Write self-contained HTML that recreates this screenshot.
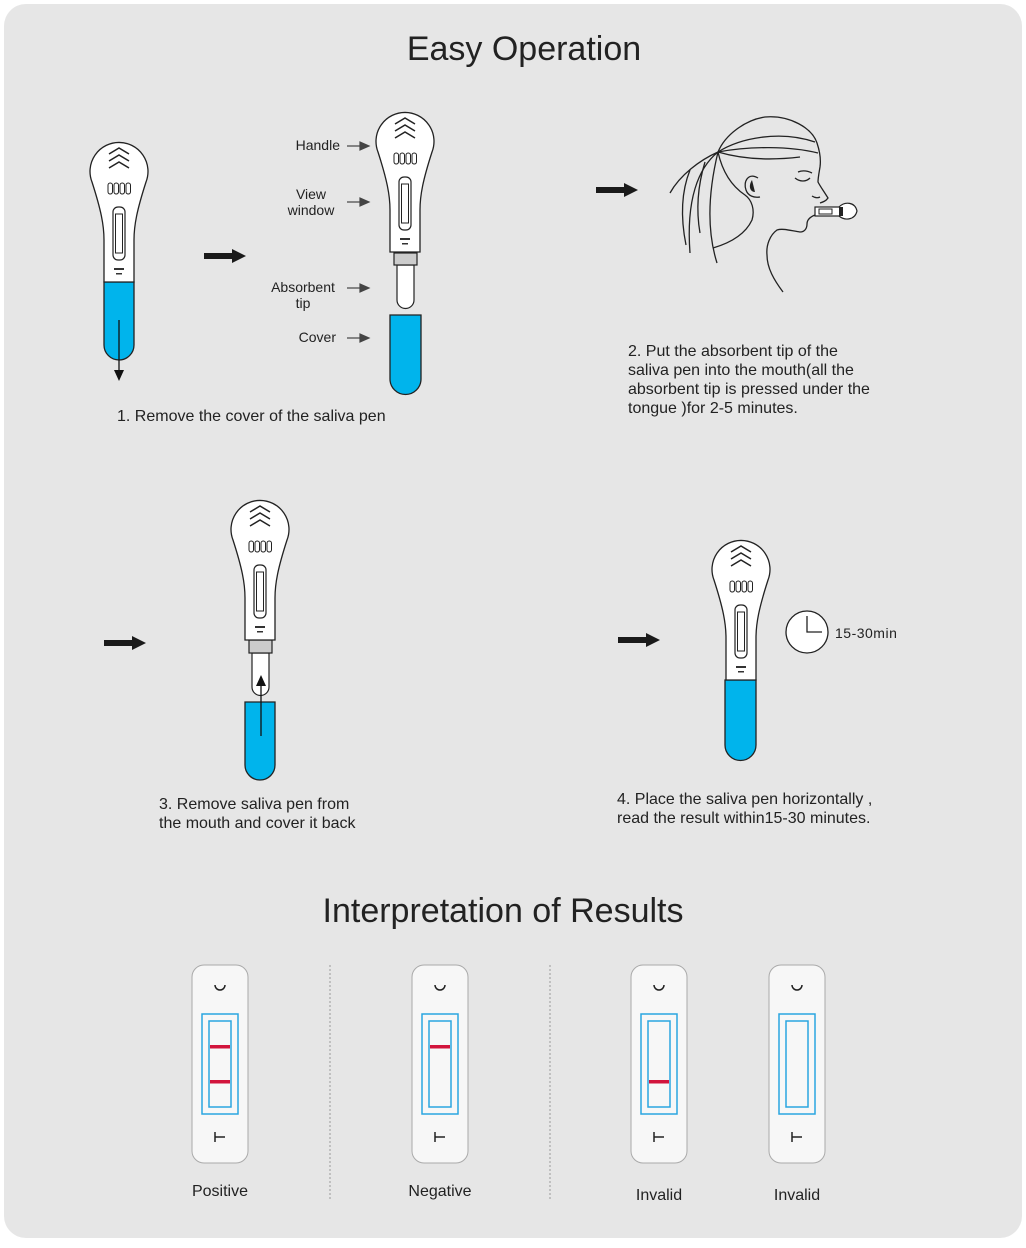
<!DOCTYPE html>
<html><head><meta charset="utf-8"><style>
html,body{margin:0;padding:0;background:#fff;}
svg{display:block;}
text{font-family:"Liberation Sans",sans-serif;fill:#222;}
</style></head><body>
<svg width="1026" height="1248" viewBox="0 0 1026 1248" xmlns="http://www.w3.org/2000/svg">
<defs>
<g id="pen">
<path d="M-27,12 A29,29 0 1 1 27,12 C18,40 15,55 15,70 L15,112 L-15,112 L-15,70 C-15,55 -18,40 -27,12 Z" fill="#fff" stroke="#222" stroke-width="1.3"/>
<path d="M-10,-16 L0,-22 L10,-16 M-10,-9 L0,-15 L10,-9 M-10,-2 L0,-8 L10,-2" fill="none" stroke="#222" stroke-width="1.5"/>
<rect x="-11" y="13" width="4.5" height="11" rx="2.2" fill="none" stroke="#222" stroke-width="1"/>
<rect x="-5" y="13" width="4.5" height="11" rx="2.2" fill="none" stroke="#222" stroke-width="1"/>
<rect x="1" y="13" width="4.5" height="11" rx="2.2" fill="none" stroke="#222" stroke-width="1"/>
<rect x="7" y="13" width="4.5" height="11" rx="2.2" fill="none" stroke="#222" stroke-width="1"/>
<rect x="-6" y="37" width="12" height="53" rx="5" fill="none" stroke="#222" stroke-width="1.2"/>
<rect x="-3.5" y="44" width="7" height="39" fill="none" stroke="#222" stroke-width="1"/>
<rect x="-5" y="98" width="10" height="2" fill="#333"/>
<rect x="-3" y="103" width="6" height="1.5" fill="#333"/>
</g>
</defs>
<rect x="4" y="4" width="1018" height="1234" rx="22" fill="#e6e6e6"/>
<text x="524" y="60" font-size="34" text-anchor="middle" fill="#444">Easy Operation</text>
<text x="503" y="922" font-size="34" text-anchor="middle" fill="#444">Interpretation of Results</text>

<!-- Step 1 pen 1 -->
<path d="M104,282 L134,282 L134,345 A15,15 0 0 1 104,345 Z" fill="#00b4ec" stroke="#222" stroke-width="1.3"/>
<use href="#pen" x="119" y="170"/>
<line x1="119" y1="320" x2="119" y2="372" stroke="#111" stroke-width="1.3"/>
<path d="M114,370 L124,370 L119,381 Z" fill="#111"/>
<path d="M204,253 L232,253 L232,249 L246,256 L232,263 L232,259 L204,259 Z" fill="#1a1a1a"/>

<!-- pen 2 -->
<path d="M397,265 L414,265 L414,300 A8.5,8.5 0 0 1 397,300 Z" fill="#fff" stroke="#222" stroke-width="1.2"/>
<rect x="394" y="253" width="23" height="12" fill="#ccc" stroke="#222" stroke-width="1.2"/>
<use href="#pen" x="405" y="140"/>
<path d="M390,315 L421,315 L421,379 A15.5,15.5 0 0 1 390,379 Z" fill="#00b4ec" stroke="#222" stroke-width="1.3"/>
<g font-size="14">
<text x="340" y="150" text-anchor="end">Handle</text>
<text x="311" y="199" text-anchor="middle">View</text>
<text x="311" y="215" text-anchor="middle">window</text>
<text x="303" y="292" text-anchor="middle">Absorbent</text>
<text x="303" y="308" text-anchor="middle">tip</text>
<text x="336" y="342" text-anchor="end">Cover</text>
</g>
<g stroke="#444" stroke-width="1.2" fill="#444">
<line x1="347" y1="146" x2="362" y2="146"/><path d="M360,142 L369,146 L360,150 Z"/>
<line x1="347" y1="202" x2="362" y2="202"/><path d="M360,198 L369,202 L360,206 Z"/>
<line x1="347" y1="288" x2="362" y2="288"/><path d="M360,284 L369,288 L360,292 Z"/>
<line x1="347" y1="338" x2="362" y2="338"/><path d="M360,334 L369,338 L360,342 Z"/>
</g>
<text x="117" y="421" font-size="16">1. Remove the cover of the saliva pen</text>

<!-- Step 2 -->
<path d="M596,187 L624,187 L624,183 L638,190 L624,197 L624,193 L596,193 Z" fill="#1a1a1a"/>
<g fill="none" stroke="#222" stroke-width="1.3">
<!-- head outline & profile -->
<path d="M718,152 C725,135 745,120 765,117 C790,115 812,128 817,143 C820,152 821,160 820,167 C819,173 818,178 818,182 C820,186 823,190 828,198 C826,201 823,202 820,203"/>
<path d="M815,215 C810,217 807,220 807,224 C807,228 805,232 800,232 C792,231 783,228 777,230 C770,235 766,245 767,255 C767,268 774,280 783,292"/>
<!-- hair lines -->
<path d="M718,152 C740,138 780,130 815,142"/>
<path d="M718,152 C750,146 790,146 818,153"/>
<path d="M718,152 C745,160 775,160 800,157"/>
<path d="M718,152 C722,170 730,185 745,195 C752,200 755,210 752,220 C745,235 730,243 713,248"/>
<path d="M718,152 C700,160 680,175 670,193"/>
<path d="M718,152 C698,168 686,200 690,253"/>
<path d="M718,152 C710,185 705,225 717,263"/>
<path d="M690,170 C682,190 680,215 686,245"/>
<path d="M705,162 C698,185 696,210 700,233"/>
<!-- ear -->
<path d="M758,178 C748,172 743,182 746,190 C748,196 754,198 760,197"/>
<!-- eye -->
<path d="M795,178 C800,182 806,182 810,178"/>
<path d="M798,172 C803,170 808,171 812,173"/>
<path d="M812,196 C815,198 818,198 820,197"/>
</g>
<path d="M752,180 C748,186 750,192 755,192 Z" fill="#222"/>
<g transform="translate(815,204)">
<rect x="0" y="3" width="26" height="9" fill="#fff" stroke="#222" stroke-width="1.2"/>
<rect x="4" y="5" width="13" height="5" fill="none" stroke="#222"/>
<path d="M24,3 C30,-3 40,-2 42,7 C40,16 30,17 24,12" fill="#fff" stroke="#222" stroke-width="1.2"/>
<rect x="24" y="3" width="4" height="9" fill="#222"/>
</g>
<g font-size="16">
<text x="628" y="356">2. Put the absorbent tip of the</text>
<text x="628" y="375">saliva pen into the mouth(all the</text>
<text x="628" y="394">absorbent tip is pressed under the</text>
<text x="628" y="413">tongue )for 2-5 minutes.</text>
</g>

<!-- Step 3 -->
<path d="M104,640 L132,640 L132,636 L146,643 L132,650 L132,646 L104,646 Z" fill="#1a1a1a"/>
<path d="M252,653 L269,653 L269,687 A8.5,8.5 0 0 1 252,687 Z" fill="#fff" stroke="#222" stroke-width="1.2"/>
<rect x="249" y="640" width="23" height="13" fill="#ccc" stroke="#222" stroke-width="1.2"/>
<use href="#pen" x="260" y="528"/>
<path d="M245,702 L275,702 L275,765 A15,15 0 0 1 245,765 Z" fill="#00b4ec" stroke="#222" stroke-width="1.3"/>
<line x1="261" y1="736" x2="261" y2="684" stroke="#111" stroke-width="1.3"/>
<path d="M256,686 L266,686 L261,675 Z" fill="#111"/>
<g font-size="16">
<text x="159" y="809">3. Remove saliva pen from</text>
<text x="159" y="828">the mouth and cover it back</text>
</g>

<!-- Step 4 -->
<path d="M618,637 L646,637 L646,633 L660,640 L646,647 L646,643 L618,643 Z" fill="#1a1a1a"/>
<path d="M725,680 L756,680 L756,745 A15.5,15.5 0 0 1 725,745 Z" fill="#00b4ec" stroke="#222" stroke-width="1.3"/>
<use href="#pen" x="741" y="568"/>
<circle cx="807" cy="632" r="21" fill="#fff" stroke="#222" stroke-width="1.3"/>
<path d="M807,616 L807,632 L822,632" fill="none" stroke="#222" stroke-width="1.3"/>
<text x="835" y="638" font-size="14" letter-spacing="0.5">15-30min</text>
<g font-size="16">
<text x="617" y="804">4. Place the saliva pen horizontally ,</text>
<text x="617" y="823">read the result within15-30 minutes.</text>
</g>

<!-- Results -->
<line x1="330" y1="965" x2="330" y2="1200" stroke="#999" stroke-dasharray="2,2"/>
<line x1="550" y1="965" x2="550" y2="1200" stroke="#999" stroke-dasharray="2,2"/>
<g font-size="16">
<text x="220" y="1196" text-anchor="middle">Positive</text>
<text x="440" y="1196" text-anchor="middle">Negative</text>
<text x="659" y="1200" text-anchor="middle">Invalid</text>
<text x="797" y="1200" text-anchor="middle">Invalid</text>
</g>
<g transform="translate(192,965)">
<rect x="0" y="0" width="56" height="198" rx="12" fill="#f7f7f7" stroke="#aaa" stroke-width="1"/>
<rect x="10" y="49" width="36" height="100" fill="none" stroke="#2aa6e0" stroke-width="1.5"/>
<rect x="17" y="56" width="22" height="86" fill="none" stroke="#2aa6e0" stroke-width="1.5"/>
<path d="M23,20 A5,5 0 0 0 33,20" fill="none" stroke="#222" stroke-width="1.5"/>
<path d="M23,172 L33,172 M23,167 L23,177" fill="none" stroke="#222" stroke-width="1.5"/>
<rect x="18" y="80" width="20" height="3.5" fill="#d2143c"/>
<rect x="18" y="115" width="20" height="3.5" fill="#d2143c"/>
</g>
<g transform="translate(412,965)">
<rect x="0" y="0" width="56" height="198" rx="12" fill="#f7f7f7" stroke="#aaa" stroke-width="1"/>
<rect x="10" y="49" width="36" height="100" fill="none" stroke="#2aa6e0" stroke-width="1.5"/>
<rect x="17" y="56" width="22" height="86" fill="none" stroke="#2aa6e0" stroke-width="1.5"/>
<path d="M23,20 A5,5 0 0 0 33,20" fill="none" stroke="#222" stroke-width="1.5"/>
<path d="M23,172 L33,172 M23,167 L23,177" fill="none" stroke="#222" stroke-width="1.5"/>
<rect x="18" y="80" width="20" height="3.5" fill="#d2143c"/>
</g>
<g transform="translate(631,965)">
<rect x="0" y="0" width="56" height="198" rx="12" fill="#f7f7f7" stroke="#aaa" stroke-width="1"/>
<rect x="10" y="49" width="36" height="100" fill="none" stroke="#2aa6e0" stroke-width="1.5"/>
<rect x="17" y="56" width="22" height="86" fill="none" stroke="#2aa6e0" stroke-width="1.5"/>
<path d="M23,20 A5,5 0 0 0 33,20" fill="none" stroke="#222" stroke-width="1.5"/>
<path d="M23,172 L33,172 M23,167 L23,177" fill="none" stroke="#222" stroke-width="1.5"/>
<rect x="18" y="115" width="20" height="3.5" fill="#d2143c"/>
</g>
<g transform="translate(769,965)">
<rect x="0" y="0" width="56" height="198" rx="12" fill="#f7f7f7" stroke="#aaa" stroke-width="1"/>
<rect x="10" y="49" width="36" height="100" fill="none" stroke="#2aa6e0" stroke-width="1.5"/>
<rect x="17" y="56" width="22" height="86" fill="none" stroke="#2aa6e0" stroke-width="1.5"/>
<path d="M23,20 A5,5 0 0 0 33,20" fill="none" stroke="#222" stroke-width="1.5"/>
<path d="M23,172 L33,172 M23,167 L23,177" fill="none" stroke="#222" stroke-width="1.5"/>
</g>
</svg>
</body></html>
